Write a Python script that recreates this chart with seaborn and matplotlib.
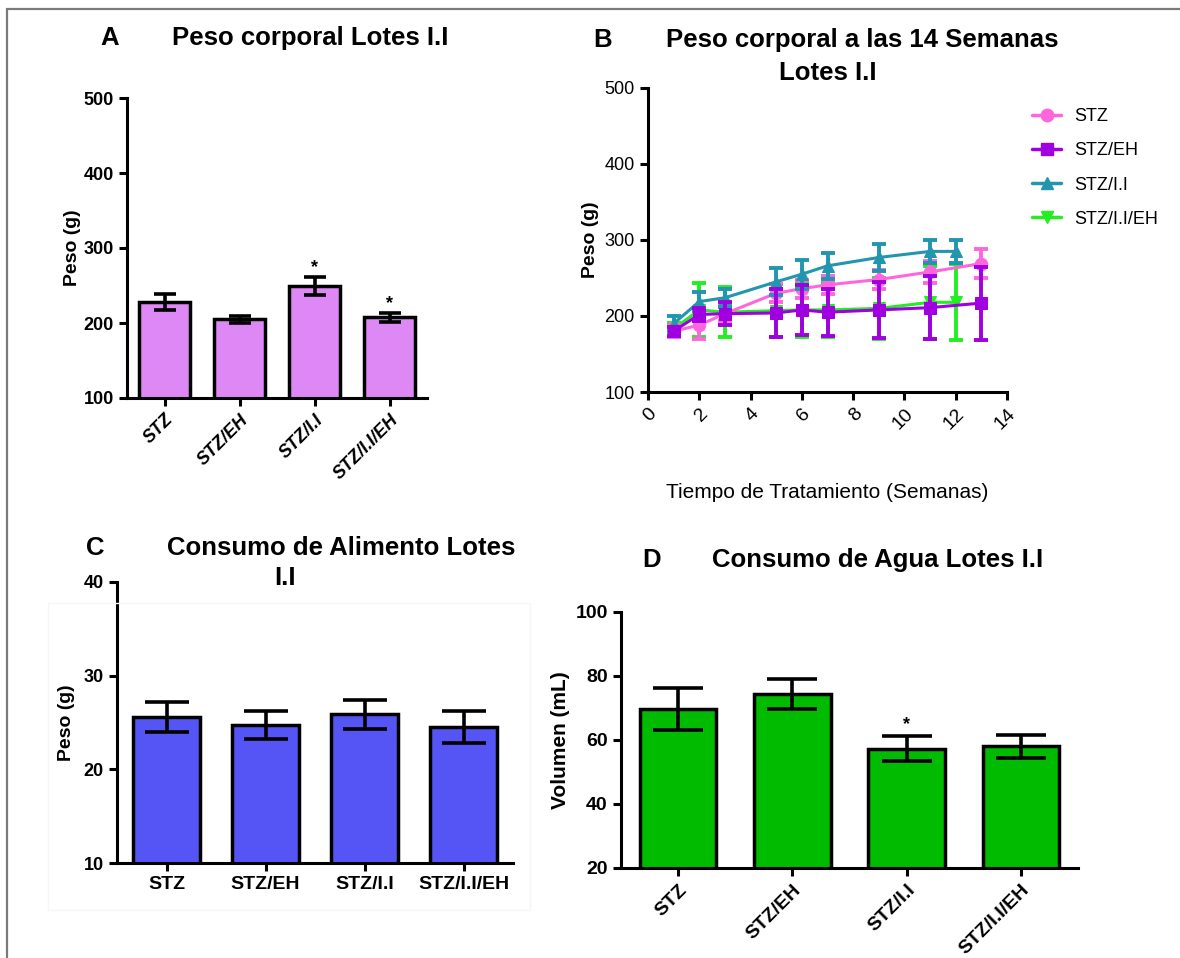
import matplotlib
matplotlib.use("Agg")
import matplotlib.pyplot as plt
from matplotlib import font_manager
from matplotlib.lines import Line2D
from matplotlib.patches import Rectangle
import seaborn as sns
import numpy as np
import pandas as pd

# ---------------- data ----------------
groups = ["STZ", "STZ/EH", "STZ/I.I", "STZ/I.I/EH"]

# A: body weight
weight_mean = [228, 205, 250, 208]
weight_err = [11, 5, 12, 6]
weight_star = [False, False, True, True]

# B: body weight over time
wk_stz = [1, 2, 3, 5, 6, 7, 9, 11, 13]
val_stz = [180, 188, 203, 230, 236, 241, 248, 258, 269]
err_stz = [8, 18, 10, 12, 12, 12, 12, 14, 19]

wk_eh = [1, 2, 3, 5, 6, 7, 9, 11, 13]
val_eh = [180, 202, 203, 204, 208, 205, 208, 211, 217]
err_eh = [6, 8, 15, 32, 33, 31, 37, 41, 48]

wk_ii = [1, 2, 3, 5, 6, 7, 9, 11, 12]
val_ii = [190, 219, 224, 245, 255, 266, 277, 285, 285]
err_ii = [10, 12, 12, 18, 19, 17, 18, 15, 15]

wk_iieh = [1, 2, 3, 5, 6, 7, 9, 11, 12]
val_iieh = [183, 208, 205, 207, 208, 208, 210, 218, 218]
err_iieh = [8, 35, 33, 35, 35, 35, 40, 48, 50]

# C: food consumption
food_mean = [25.6, 24.7, 25.9, 24.5]
food_err = [1.6, 1.5, 1.55, 1.7]

# D: water consumption
water_mean = [69.7, 74.4, 57.2, 58.1]
water_err = [6.6, 4.7, 3.9, 3.6]
water_star = [False, False, True, False]

# ---------------- style ----------------
sns.set_style("ticks")
avail = {f.name for f in font_manager.fontManager.ttflist}
narrow = "Liberation Sans Narrow" if "Liberation Sans Narrow" in avail else "Liberation Sans"
plt.rcParams["font.family"] = [narrow, "Liberation Sans", "DejaVu Sans"]
for key in ("text.color", "axes.labelcolor", "xtick.color", "ytick.color"):
    plt.rcParams[key] = "black"
wide = ["Liberation Sans", "DejaVu Sans"]
TITLE = 18.5

W, H = 1180, 958
fig = plt.figure(figsize=(W / 100, H / 100), dpi=100)


def axes_px(l, t, r, b):
    return fig.add_axes([l / W, 1 - b / H, (r - l) / W, (b - t) / H])


def style_axes(ax, lw=2.2):
    sns.despine(ax=ax)
    for s in ("left", "bottom"):
        ax.spines[s].set_linewidth(lw)
        ax.spines[s].set_color("black")
    ax.tick_params(axis="both", width=lw, length=6, color="black", labelcolor="black",
                   direction="out")


def bar_panel(ax, means, errs, color, capsize, stars=None, star_pad=0.0):
    sns.barplot(x=groups, y=means, color=color, ax=ax, width=0.67,
                edgecolor="black", linewidth=2.5, errorbar=None, saturation=1)
    ax.errorbar(np.arange(len(groups)), means, yerr=errs, fmt="none",
                ecolor="black", elinewidth=2.6, capsize=capsize, capthick=2.6, zorder=5)
    if stars is not None:
        for i, s in enumerate(stars):
            if s:
                ax.text(i, means[i] + errs[i] + star_pad, "*", ha="center", va="bottom",
                        fontsize=13, fontweight="bold", family=wide)
    ax.set_xlim(-0.5, 3.5)
    ax.set_xlabel("")


# ---------------- figure border ----------------
fig.add_artist(Line2D([7 / W, 7 / W], [0, 1 - 9 / H], transform=fig.transFigure,
                      color="#7a7a7a", lw=1.6))
fig.add_artist(Line2D([7 / W, 1], [1 - 9 / H, 1 - 9 / H], transform=fig.transFigure,
                      color="#7a7a7a", lw=1.6))
fig.add_artist(Rectangle((48 / W, 1 - 910 / H), (530 - 48) / W, (910 - 603) / H,
                         transform=fig.transFigure, fill=False, ec="#f6f6f6", lw=1))

# ---------------- A ----------------
axA = axes_px(127, 98, 427, 398)
bar_panel(axA, weight_mean, weight_err, "#DD88F5", capsize=8, stars=weight_star, star_pad=1)
axA.set_ylim(100, 500)
axA.set_yticks([100, 200, 300, 400, 500])
axA.set_ylabel("Peso (g)", fontsize=14, fontweight="bold", family=wide, labelpad=2)
style_axes(axA)
for lab in axA.get_yticklabels():
    lab.set_fontsize(13); lab.set_fontweight("bold")
axA.set_xticks(range(4))
axA.set_xticklabels(groups, rotation=45, ha="right", rotation_mode="anchor",
                    fontsize=13, fontweight="bold", style="italic", family=wide)

fig.text(110 / W, 1 - 38 / H, "A", fontsize=TITLE, fontweight="bold", ha="center", va="center")
fig.text(310 / W, 1 - 38 / H, "Peso corporal Lotes I.I", fontsize=TITLE, fontweight="bold",
         ha="center", va="center")

# ---------------- B ----------------
axB = axes_px(648, 88, 1007, 392)
series = [
    ("STZ/I.I/EH", wk_iieh, val_iieh, err_iieh, "#22EE22", "v"),
    ("STZ", wk_stz, val_stz, err_stz, "#FF66DD", "o"),
    ("STZ/I.I", wk_ii, val_ii, err_ii, "#2196AE", "^"),
    ("STZ/EH", wk_eh, val_eh, err_eh, "#A000E0", "s"),
]
for name, wk, val, err, col, mk in series:
    sns.lineplot(x=wk, y=val, ax=axB, color=col, marker=mk, markersize=9,
                 markeredgecolor=col, linewidth=2.2, errorbar=None)
    axB.errorbar(wk, val, yerr=err, fmt="none", ecolor=col, elinewidth=2.8,
                 capsize=5, capthick=2.8)
axB.set_xlim(0, 14)
axB.set_ylim(100, 500)
axB.set_xticks(range(0, 15, 2))
axB.set_yticks([100, 200, 300, 400, 500])
style_axes(axB)
for lab in axB.get_yticklabels():
    lab.set_fontsize(13)
axB.set_xticklabels([str(v) for v in range(0, 15, 2)], rotation=45, ha="right",
                    rotation_mode="anchor", fontsize=14)
axB.set_ylabel("Peso (g)", fontsize=14, fontweight="bold", family=wide, labelpad=4)
axB.set_xlabel("Tiempo de Tratamiento (Semanas)", fontsize=15, labelpad=36)

legend_order = ["STZ", "STZ/EH", "STZ/I.I", "STZ/I.I/EH"]
lookup = {s[0]: s for s in series}
handles = [Line2D([], [], color=lookup[n][4], marker=lookup[n][5], markersize=9, lw=2.5)
           for n in legend_order]
axB.legend(handles, legend_order, loc="upper left", bbox_to_anchor=(1016 / W, 1 - 92 / H),
           bbox_transform=fig.transFigure, frameon=False, fontsize=13,
           handlelength=1.6, labelspacing=0.95, handletextpad=0.7)

fig.text(603 / W, 1 - 40 / H, "B", fontsize=TITLE, fontweight="bold", ha="center", va="center")
fig.text(862 / W, 1 - 40 / H, "Peso corporal a las 14 Semanas", fontsize=TITLE,
         fontweight="bold", ha="center", va="center")
fig.text(828 / W, 1 - 73 / H, "Lotes I.I", fontsize=TITLE, fontweight="bold",
         ha="center", va="center")

# ---------------- C ----------------
axC = axes_px(117, 582, 513, 863)
bar_panel(axC, food_mean, food_err, "#5555F5", capsize=16)
axC.set_ylim(10, 40)
axC.set_yticks([10, 20, 30, 40])
style_axes(axC)
for lab in axC.get_yticklabels():
    lab.set_fontsize(13); lab.set_fontweight("bold"); lab.set_family(wide)
axC.set_xticks(range(4))
axC.set_xticklabels(groups, fontsize=14, fontweight="bold", family=wide)
axC.set_ylabel("Peso (g)", fontsize=14, fontweight="bold", family=wide, labelpad=6)

fig.text(95 / W, 1 - 548 / H, "C", fontsize=TITLE, fontweight="bold", ha="center", va="center")
fig.text(341 / W, 1 - 548 / H, "Consumo de Alimento Lotes", fontsize=TITLE,
         fontweight="bold", ha="center", va="center")
fig.text(285 / W, 1 - 578 / H, "I.I", fontsize=TITLE, fontweight="bold",
         ha="center", va="center")

# ---------------- D ----------------
axD = axes_px(621, 612, 1078, 868)
bar_panel(axD, water_mean, water_err, "#00BB00", capsize=18, stars=water_star, star_pad=1)
axD.set_ylim(20, 100)
axD.set_yticks([20, 40, 60, 80, 100])
style_axes(axD)
for lab in axD.get_yticklabels():
    lab.set_fontsize(14); lab.set_fontweight("bold"); lab.set_family(wide)
axD.set_xticks(range(4))
axD.set_xticklabels(groups, rotation=45, ha="right", rotation_mode="anchor",
                    fontsize=14, fontweight="bold", family=wide)
axD.set_ylabel("Volumen (mL)", fontsize=15, fontweight="bold", family=wide, labelpad=4)

fig.text(652 / W, 1 - 560 / H, "D", fontsize=TITLE, fontweight="bold", ha="center", va="center")
fig.text(878 / W, 1 - 560 / H, "Consumo de Agua Lotes I.I", fontsize=TITLE,
         fontweight="bold", ha="center", va="center")

fig.savefig("out.png", dpi=100)
